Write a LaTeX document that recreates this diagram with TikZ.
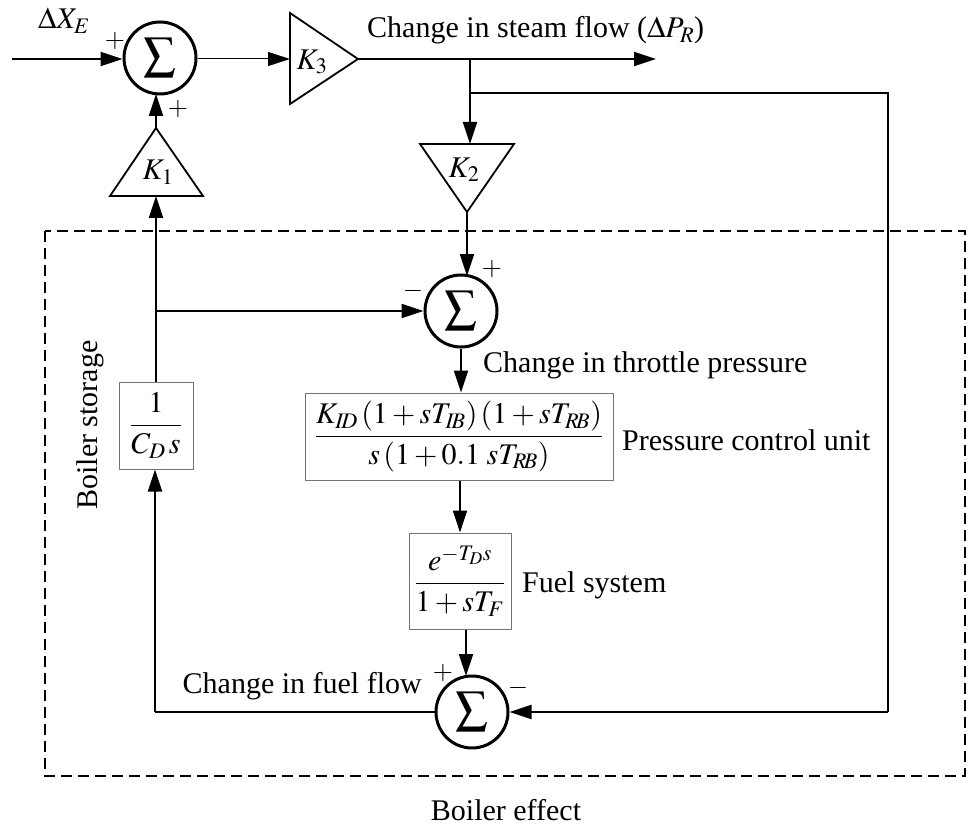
\documentclass[tikz,border=0pt]{standalone}
\usepackage{amsmath}
\usepackage{mathptmx}
\usepackage[no-math]{fontspec}
\setmainfont{Liberation Serif}
\usetikzlibrary{arrows.meta}
\newcommand{\bigsum}{{\fontsize{46}{50}\selectfont$\sum$}}
\begin{document}
\begin{tikzpicture}[x=1pt,y=-1pt,
  every node/.style={font=\fontsize{30}{36}\selectfont, inner sep=0pt},
  wire/.style={line width=2pt},
  thin wire/.style={line width=1pt},
  arr/.style={-{Triangle[length=22pt,width=14pt]}},
  sumnode/.style={circle, draw, line width=3pt, minimum size=72pt},
  tf/.style={draw=black!55, line width=1pt, rectangle, inner sep=2pt},
  gain/.style={draw, line width=1.8pt, line join=miter},
  sign/.style={font=\fontsize{26}{30}\selectfont}
]
\useasboundingbox (0,0) rectangle (968,826);

% boundary
\draw[line width=1.8pt, dash pattern=on 11pt off 6pt] (45,231) rectangle (965,776);

% summing junctions
\node[sumnode] (s1) at (160,58) {\bigsum};
\node[sumnode] (s2) at (461,311) {\bigsum};
\node[sumnode] (s3) at (472,712) {\bigsum};

% gains
\draw[gain] (110,196) -- (203,196) -- (156,128) -- cycle;
\node (k1) at (158,172) {$K_1$};
\coordinate (k1tip) at (156,128);
\coordinate (k1base) at (156,196);
\coordinate (s1in) at (156,94);

\draw[gain] (290,13) -- (290,104) -- (358,59) -- cycle;
\node (k3) at (312,62) {$K_3$};
\coordinate (k3in) at (290,59);
\coordinate (k3out) at (358,59);

\draw[gain] (420,144) -- (514,144) -- (467,212) -- cycle;
\node (k2) at (464,170) {$K_2$};
\coordinate (k2in) at (470,144);
\coordinate (k2out) at (467,212);
\coordinate (s2in) at (467,276);

% transfer function boxes
\node[tf, minimum width=74pt, minimum height=87pt] (cd) at (156,425.5)
  {$\dfrac{1}{C_D\, s}$};
\node[tf, minimum width=308pt, minimum height=87pt] (pcu) at (459,436.5)
  {$\dfrac{K_{I\!D}\,(1+sT_{I\!B})\,(1+sT_{R\!B})}{s\,(1+0.1\;sT_{R\!B})}$};
\node[tf, minimum width=102pt, minimum height=96pt] (fuel) at (460,581)
  {$\dfrac{e^{-T_D s}}{1+sT_F}$};

% coordinates
\coordinate (in) at (12,59);
\coordinate (out) at (656,59);
\coordinate (br) at (470,59);
\coordinate (fbtop) at (470,93);
\coordinate (fbr1) at (888,93);
\coordinate (fbr2) at (888,712);
\coordinate (lbr) at (156,311);
\coordinate (lbot) at (155,712);
\coordinate (s3in) at (466,676);

% connectors
\draw[wire, arr] (in) -- (s1.west |- in);
\draw[thin wire, arr] (s1.east |- k3in) -- (k3in);
\draw[wire, arr] (k3out) -- (out);
\draw[wire, arr] (br) -- (k2in);
\draw[wire] (fbtop) -- (fbr1) -- (fbr2);
\draw[wire, arr] (fbr2) -- (s3.east);
\draw[wire, arr] (k2out) -- (s2in);
\draw[wire, arr] (k1tip) -- (s1in);
\draw[wire, arr] (cd.north) -- (k1base);
\draw[wire, arr] (lbr) -- (s2.west);
\draw[wire, arr] (s2.south) -- (pcu.north -| s2.south);
\draw[wire, arr] (pcu.south -| fuel.north) -- (fuel.north);
\draw[wire, arr] (s3in |- fuel.south) -- (s3in);
\draw[wire] (s3.west) -- (lbot);
\draw[wire, arr] (lbot) -- (lbot |- cd.south);

% labels
\node (lx) at (64,21) {$\Delta X_E$};
\node[sign] (p1) at (115,41) {$+$};
\node[sign] (p2) at (178,109) {$+$};
\node[anchor=base west] (lsteam) at (367,38) {Change in steam flow ($\Delta P_R$)};
\node[sign] (p3) at (492,269) {$+$};
\node[sign] (m1) at (413,291) {$-$};
\node[anchor=base west] (lthr) at (483,372) {Change in throttle pressure};
\node[anchor=west] (lpcu) at (622,440) {Pressure control unit};
\node[anchor=base west] (lfuel) at (522,592) {Fuel system};
\node[sign] (p4) at (443,673) {$+$};
\node[sign] (m2) at (518,688) {$-$};
\node[anchor=base east] (lff) at (422,693) {Change in fuel flow};
\node[rotate=90] (lbs) at (90,425) {Boiler storage};
\node[anchor=base] (lbe) at (506,820) {Boiler effect};
\end{tikzpicture}
\end{document}
